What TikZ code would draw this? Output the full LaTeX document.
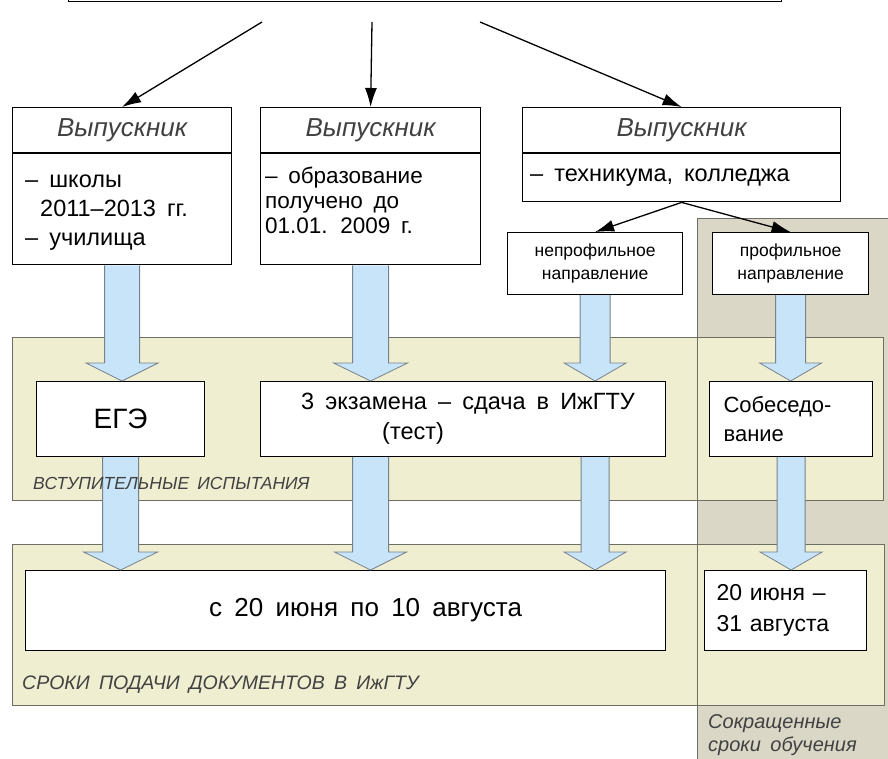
\documentclass[tikz,border=0pt]{standalone}
\usepackage{fontspec}
\setmainfont{Liberation Sans}[WordSpace=1.7]
\usetikzlibrary{arrows.meta,calc}

\definecolor{panelyellow}{RGB}{240,238,209}
\definecolor{panelgray}{RGB}{219,215,199}
\definecolor{panelline}{RGB}{110,110,100}
\definecolor{arrowblue}{RGB}{200,228,248}
\definecolor{arrowline}{RGB}{120,130,140}
\definecolor{textgray}{RGB}{65,65,65}

% wide blue arrow: from, to, half shaft, half head
\newcommand{\fatarrow}[4]{%
  \filldraw[fat] let \p1=#1, \p2=#2 in
    (\x1-#3,\y1) -- (\x1-#3,\y2+18pt) -- (\x1-#4,\y2+18pt) -- (\x1,\y2)
    -- (\x1+#4,\y2+18pt) -- (\x1+#3,\y2+18pt) -- (\x1+#3,\y1);}

\begin{document}
\begin{tikzpicture}[x=1pt, y=-1pt,
>={Latex[length=19pt,width=12pt]},
box/.style={draw, fill=white, line width=1.2pt, inner sep=0pt, anchor=north west},
head/.style={box, minimum height=45pt, text=textgray, font=\fontsize{26}{30}\selectfont\itshape},
txt/.style={inner sep=0pt, align=left, anchor=north west, font=\fontsize{23.5}{29}\selectfont},
small/.style={box, align=center, font=\fontsize{17.5}{23}\selectfont},
panel/.style={draw=panelline, fill=panelyellow, line width=0.8pt, inner sep=0pt, anchor=north west},
lbl/.style={inner sep=0pt, anchor=west, text=textgray, font=\fontsize{17.5}{23}\selectfont\itshape},
fat/.style={fill=arrowblue, draw=arrowline, line width=0.8pt}]
\useasboundingbox (0,0) rectangle (888,758);

% backgrounds
\fill[panelgray] (697,218) rectangle (900,770);
\node[panel, minimum width=871pt, minimum height=163pt] (trials) at (12,337) {};
\node[panel, minimum width=872pt, minimum height=161pt] (terms) at (12,544) {};
\draw[panelline, line width=0.8pt] (697,770) -- (697,218) -- (900,218);

% top box (cut off) and the graduate boxes
\node[box, minimum width=713pt, minimum height=60pt, anchor=south west] (top) at (68,2) {};
\node[head, minimum width=219pt] (gradA) at (12,107) {Выпускник};
\node[box, minimum width=219pt, minimum height=111pt] (bodyA) at (gradA.south west) {};
\node[txt] (textA) at ([xshift=13pt,yshift=-21pt]bodyA.north west) {– школы\\\hspace*{15pt}2011–2013 гг.\\– училища};
\node[head, minimum width=220pt] (gradB) at (260,107) {Выпускник};
\node[box, minimum width=220pt, minimum height=111pt] (bodyB) at (gradB.south west) {};
\node[txt, font=\fontsize{22.5}{25}\selectfont] (textB) at ([xshift=5pt,yshift=-14pt]bodyB.north west) {– образование\\получено до\\01.01. 2009 г.};
\node[head, minimum width=318pt] (gradC) at (522,107) {Выпускник};
\node[box, minimum width=318pt, minimum height=48pt] (bodyC) at (gradC.south west) {};
\node[txt, anchor=west] (textC) at ([xshift=8pt]bodyC.west) {– техникума, колледжа};

\draw[->, line width=1.3pt] (262,22) -- (gradA.north);
\draw[->, line width=1.3pt] (372,22) -- (gradB.north);
\draw[->, line width=1.3pt] (480,22) -- (gradC.north);

\node[small, minimum width=175pt, minimum height=62pt] (nonprof) at (507,232) {непрофильное\\направление};
\node[small, minimum width=156pt, minimum height=62pt] (prof) at (712,232) {профильное\\направление};
\draw[->, line width=1.3pt] (bodyC.south) -- (nonprof.north);
\draw[->, line width=1.3pt] (bodyC.south) -- (prof.north);

% entrance tests
\node[box, minimum width=168pt, minimum height=75pt, font=\fontsize{28}{32}\selectfont] (ege) at (36,381) {ЕГЭ};
\node[box, minimum width=405pt, minimum height=75pt, align=center, font=\fontsize{23.5}{30}\selectfont] (exam) at (260,381) {\hspace*{10pt}3 экзамена – сдача в ИжГТУ\\\hspace*{-100pt}(тест)};
\node[box, minimum width=163pt, minimum height=75pt, align=left, text width=135pt, inner xsep=14pt, font=\fontsize{22}{29}\selectfont] (talk) at (709,381) {Собеседо-\\вание};

% dates
\node[box, minimum width=640pt, minimum height=80pt, font=\fontsize{26}{30}\selectfont] (dates) at (25,570) {\hspace*{40pt}с 20 июня по 10 августа};
\node[box, minimum width=162pt, minimum height=80pt, align=left, text width=138pt, inner xsep=12pt, font=\fontsize{23}{31}\selectfont] (short) at (704,570) {20 июня –\\31 августа};

\fatarrow{(bodyA.south)}{(ege.north)}{17.5pt}{36pt}
\fatarrow{(bodyB.south)}{(exam.north)}{18pt}{37pt}
\fatarrow{(nonprof.south)}{(exam.north)}{15pt}{31pt}
\fatarrow{(prof.south)}{(talk.north)}{15pt}{31pt}
\fatarrow{(ege.south)}{(dates.north)}{18pt}{37pt}
\fatarrow{(bodyB.south |- exam.south)}{(dates.north)}{18pt}{36pt}
\fatarrow{(nonprof.south |- exam.south)}{(dates.north)}{14pt}{31pt}
\fatarrow{(talk.south)}{(short.north)}{14pt}{31pt}

\node[lbl] (trialsname) at ([xshift=21pt,yshift=17pt]trials.south west) {ВСТУПИТЕЛЬНЫЕ ИСПЫТАНИЯ};
\node[lbl, font=\fontsize{19.5}{24}\selectfont\itshape] (termsname) at ([xshift=10pt,yshift=21pt]terms.south west) {СРОКИ ПОДАЧИ ДОКУМЕНТОВ В ИжГТУ};
\node[lbl, anchor=north west, align=left, font=\fontsize{20}{23}\selectfont\itshape] (shortname) at (708,714) {Сокращенные\\сроки обучения};
\end{tikzpicture}
\end{document}
